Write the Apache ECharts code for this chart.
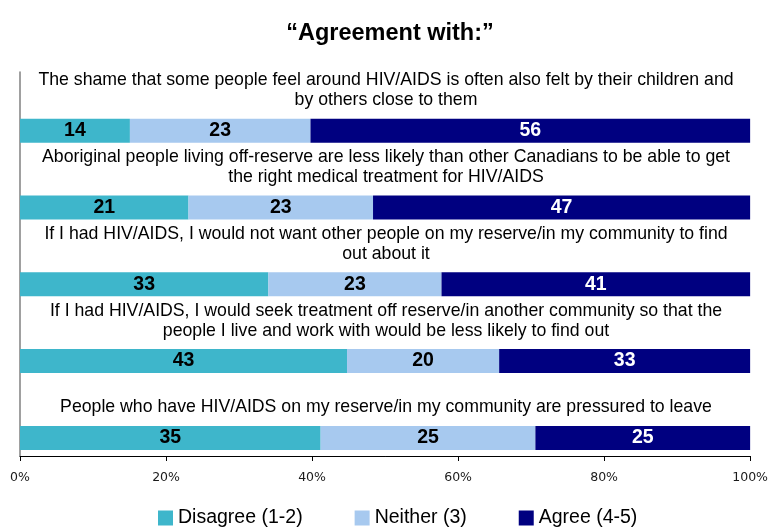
<!DOCTYPE html>
<html>
<head>
<meta charset="utf-8">
<script src="https://cdn.jsdelivr.net/npm/echarts@6/dist/echarts.min.js"></script>
<style>html,body{margin:0;padding:0;background:#fff}#c{width:771px;height:529px}</style>
</head>
<body>
<div id="c"></div>
<script>
var titleText = '\u201cAgreement with:\u201d';
var categories = [
  'The shame that some people feel around HIV/AIDS is often also felt by their children and\nby others close to them',
  'Aboriginal people living off-reserve are less likely than other Canadians to be able to get\nthe right medical treatment for HIV/AIDS',
  'If I had HIV/AIDS, I would not want other people on my reserve/in my community to find\nout about it',
  'If I had HIV/AIDS, I would seek treatment off reserve/in another community so that the\npeople I live and work with would be less likely to find out',
  'People who have HIV/AIDS on my reserve/in my community are pressured to leave'
];
var seriesNames = ['Disagree (1-2)', 'Neither (3)', 'Agree (4-5)'];
var disagree = [14, 21, 33, 43, 35];
var neither = [23, 23, 23, 20, 25];
var agree = [56, 47, 41, 33, 25];
var xTicks = ['0%', '20%', '40%', '60%', '80%', '100%'];

var colors = ['#3EB6CB', '#A7C9EF', '#000080'];
var labelColors = ['#000', '#000', '#fff'];
var raw = [disagree, neither, agree];
var totals = categories.map(function (c, i) { return disagree[i] + neither[i] + agree[i]; });

var chart = echarts.init(document.getElementById('c'));
var series = [{
  name: 'spacer', type: 'bar', stack: 'gap', data: [], barWidth: 24, barGap: '69%', silent: true
}];
raw.forEach(function (arr, k) {
  series.push({
    name: seriesNames[k], type: 'bar', stack: 'total', barWidth: 24, barGap: '69%',
    itemStyle: { color: colors[k] },
    data: arr.map(function (v, i) { return { value: v / totals[i] * 100, raw: v }; }),
    label: {
      show: true, position: 'inside', color: labelColors[k],
      fontFamily: 'Liberation Sans', fontWeight: 'bold', fontSize: 19.5,
      formatter: function (p) { return p.data.raw; }
    }
  });
});

chart.setOption({
  animation: false,
  title: {
    text: titleText, left: 385, textAlign: 'center', top: 17,
    textStyle: { fontFamily: 'Liberation Sans', fontWeight: 'bold', fontSize: 23.5, color: '#000' }
  },
  legend: {
    data: seriesNames, top: 508, left: 158, padding: 0, itemWidth: 15, itemHeight: 15, itemGap: 52,
    icon: 'rect',
    textStyle: { fontFamily: 'Liberation Sans', fontSize: 19.5, color: '#000' }
  },
  grid: { left: 20, right: 19, top: 72, bottom: 73, containLabel: false },
  xAxis: {
    type: 'value', min: 0, max: 100, interval: 20,
    axisLine: { show: true, lineStyle: { color: '#000', width: 1 } },
    axisTick: { show: true, length: 5, lineStyle: { color: '#000' } },
    splitLine: { show: false },
    axisLabel: {
      margin: 15, color: '#1a1a1a', fontFamily: 'DejaVu Sans', fontSize: 12.5,
      formatter: function (v) { return xTicks[v / 20]; }
    }
  },
  yAxis: {
    type: 'category', inverse: true, data: categories,
    axisLine: { show: true, lineStyle: { color: '#808080', width: 1.5 } },
    axisTick: { show: false },
    axisLabel: {
      inside: true, align: 'center', margin: 366, verticalAlign: 'bottom',
      lineHeight: 20,
      fontFamily: 'Liberation Sans', fontSize: 17.7, color: '#000'
    }
  },
  series: series
});
</script>
</body>
</html>
